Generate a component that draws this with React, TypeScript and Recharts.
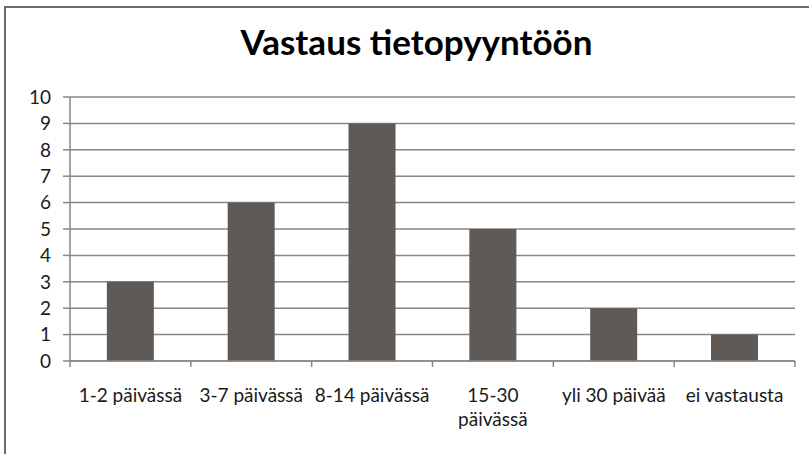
import React from "react";
import { BarChart, Bar, XAxis, YAxis, CartesianGrid } from "recharts";

const categoryLines = [
  ["1-2 päivässä"],
  ["3-7 päivässä"],
  ["8-14 päivässä"],
  ["15-30", "päivässä"],
  ["yli 30 päivää"],
  ["ei vastausta"],
];
const categories = categoryLines.map((l) => l.join(" "));
const values = [3, 6, 9, 5, 2, 1];
const yTicks = [0, 1, 2, 3, 4, 5, 6, 7, 8, 9, 10];

const data = categories.map((name, i) => ({ name, value: values[i] }));

const W = 809;
const H = 454;
const LEFT = 70;
const RIGHT = 14;
const BAND = (W - LEFT - RIGHT) / categories.length;
const GRID = "#8a8784";
const FONT = "Lato, 'Open Sans', sans-serif";

const XTick = (props: any) => {
  const { x, y, index } = props;
  const lines = categoryLines[index] || [];
  return (
    <g>
      {index === 0 && (
        <line x1={x - BAND / 2} x2={x - BAND / 2} y1={y} y2={y + 6} stroke={GRID} strokeWidth={1.5} />
      )}
      <line x1={x + BAND / 2} x2={x + BAND / 2} y1={y} y2={y + 6} stroke={GRID} strokeWidth={1.5} />
      {lines.map((t, i) => (
        <text
          key={i}
          x={x}
          y={y + 41 + i * 24}
          textAnchor="middle"
          fill="#1a1a1a"
          fontSize={19}
          fontFamily={FONT}
        >
          {t}
        </text>
      ))}
    </g>
  );
};

export default function App() {
  return (
    <div
      style={{
        position: "fixed",
        left: 0,
        top: 0,
        width: W,
        height: H,
        background: "#fff",
        overflow: "hidden",
      }}
    >
      <div
        style={{
          position: "absolute",
          left: 4,
          top: 6,
          width: W,
          height: H,
          borderTop: "2px solid #6e6a66",
          borderLeft: "2px solid #6e6a66",
        }}
      />
      <div
        style={{
          position: "absolute",
          left: 0,
          width: W,
          top: 20,
          textAlign: "center",
          fontFamily: FONT,
          fontWeight: 700,
          fontSize: 35,
          color: "#000",
          paddingLeft: 12,
        }}
      >
        Vastaus tietopyyntöön
      </div>
      <BarChart
        width={W}
        height={H}
        data={data}
        margin={{ top: 97, right: RIGHT, left: 0, bottom: 0 }}
        barCategoryGap="30.5%"
        style={{ position: "absolute", left: 0, top: 0 }}
      >
        <CartesianGrid horizontal={true} vertical={false} stroke={GRID} strokeWidth={1.5} />
        <XAxis
          dataKey="name"
          height={93}
          interval={0}
          tickLine={false}
          tickSize={0}
          tickMargin={0}
          axisLine={{ stroke: GRID, strokeWidth: 1.5 }}
          tick={<XTick />}
        />
        <YAxis
          width={LEFT}
          domain={[0, 10]}
          ticks={yTicks}
          interval={0}
          tickSize={7}
          tickMargin={12}
          axisLine={{ stroke: GRID, strokeWidth: 1.5 }}
          tickLine={{ stroke: GRID, strokeWidth: 1.5 }}
          tick={{ fill: "#1a1a1a", fontSize: 19, fontFamily: FONT }}
        />
        <Bar dataKey="value" fill="#5f5a56" isAnimationActive={false} />
      </BarChart>
    </div>
  );
}
